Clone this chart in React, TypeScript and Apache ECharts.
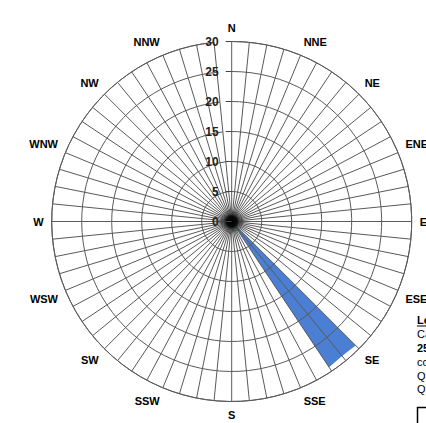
import React, { useEffect, useRef } from 'react';
import * as echarts from 'echarts';

// 16 compass directions (tick labels of the angle axis, every 4th spoke)
const directionLabels = ['N', 'NNE', 'NE', 'ENE', 'E', 'ESE', 'SE', 'SSE', 'S', 'SSW', 'SW', 'WSW', 'W', 'WNW', 'NW', 'NNW'];

// 64 spokes, every 5.625 degrees
const angleCategories = Array.from({ length: 64 }, (_, i) => String(i * 5.625));

// value (radius) at each spoke
const windValues = [
  0, 0, 0, 0, 0, 0, 0, 0,
  0, 0, 0, 0, 0, 0, 0, 0,
  0, 0, 0, 0, 0, 0, 0, 0,
  29.2, 29.0, 29.2, 0, 0, 0, 0, 0,
  0, 0, 0, 0, 0, 0, 0, 0,
  0, 0, 0, 0, 0, 0, 0, 0,
  0, 0, 0, 0, 0, 0, 0, 0,
  0, 0, 0, 0, 0, 0, 0, 0,
];

const radiusMin = 0;
const radiusMax = 30;
const radiusStep = 5;

// clipped legend text at the right edge
const legendLines = ['Legend', 'Calms', '25.0%', 'concentration', 'Q1', 'Q2'];
const legendBold = [true, false, true, false, false, false];

export default function App() {
  const ref = useRef<HTMLDivElement>(null);
  useEffect(() => {
    if (!ref.current) return;
    const chart = echarts.init(ref.current, undefined, { renderer: 'svg' });
    const font = 'Liberation Sans, Arial, sans-serif';
    const cx = 231.7;
    const cy = 221.5;
    const legendY = [320, 333.5, 348, 362, 375.5, 389];
    const graphics: any[] = legendLines.map((t, i) => ({
      type: 'text',
      x: 417,
      y: legendY[i],
      style: {
        text: t,
        fontSize: 11,
        fontFamily: font,
        fontWeight: legendBold[i] ? 'bold' : 'normal',
        fill: '#000',
        verticalAlign: 'middle',
        align: 'left',
      },
    }));
    graphics.push({
      type: 'line',
      shape: { x1: 417, y1: 326, x2: 460, y2: 326 },
      style: { stroke: '#000', lineWidth: 1 },
    });
    graphics.push({
      type: 'rect',
      shape: { x: 417.5, y: 407.5, width: 60, height: 40 },
      style: { stroke: '#000', lineWidth: 1.5, fill: 'none' },
    });
    // dense convergence of spokes at the centre
    graphics.push({
      type: 'circle',
      z: 10,
      shape: { cx, cy, r: 13 },
      style: {
        fill: new echarts.graphic.RadialGradient(0.5, 0.5, 0.5, [
          { offset: 0, color: 'rgba(0,0,0,1)' },
          { offset: 0.4, color: 'rgba(0,0,0,0.9)' },
          { offset: 0.6, color: 'rgba(0,0,0,0.35)' },
          { offset: 1, color: 'rgba(0,0,0,0)' },
        ]),
      },
    });
    chart.setOption({
      animation: false,
      backgroundColor: '#fff',
      polar: { center: [cx, cy], radius: 180 },
      angleAxis: {
        type: 'category',
        data: angleCategories,
        startAngle: 90,
        clockwise: true,
        boundaryGap: false,
        z: 5,
        axisLine: { show: true, lineStyle: { color: '#5a5a5a', width: 1 } },
        axisTick: { show: false },
        splitLine: { show: true, interval: 0, lineStyle: { color: '#5a5a5a', width: 1 } },
        axisLabel: {
          interval: 0,
          margin: 8,
          formatter: (_v: string, i: number) => (i % 4 === 0 ? directionLabels[i / 4] : ''),
          color: '#000',
          fontWeight: 'bold',
          fontSize: 11,
          fontFamily: font,
        },
      },
      radiusAxis: {
        type: 'value',
        min: radiusMin,
        max: radiusMax,
        interval: radiusStep,
        z: 11,
        axisLine: { show: false },
        axisTick: { show: true, length: 6, lineStyle: { color: '#444', width: 1 } },
        axisLabel: {
          margin: 13,
          color: '#222',
          fontWeight: 'bold',
          fontSize: 12,
          fontFamily: font,
        },
        splitLine: { show: true, lineStyle: { color: '#5a5a5a', width: 1 } },
      },
      series: [
        {
          type: 'line',
          coordinateSystem: 'polar',
          data: windValues,
          symbol: 'none',
          lineStyle: { width: 0, opacity: 0 },
          areaStyle: { color: '#4A7FD3', opacity: 1 },
          z: 2,
        },
      ],
      graphic: graphics,
    });
    return () => chart.dispose();
  }, []);
  return <div ref={ref} style={{ position: 'fixed', left: 0, top: 0, width: 426, height: 423 }} />;
}
